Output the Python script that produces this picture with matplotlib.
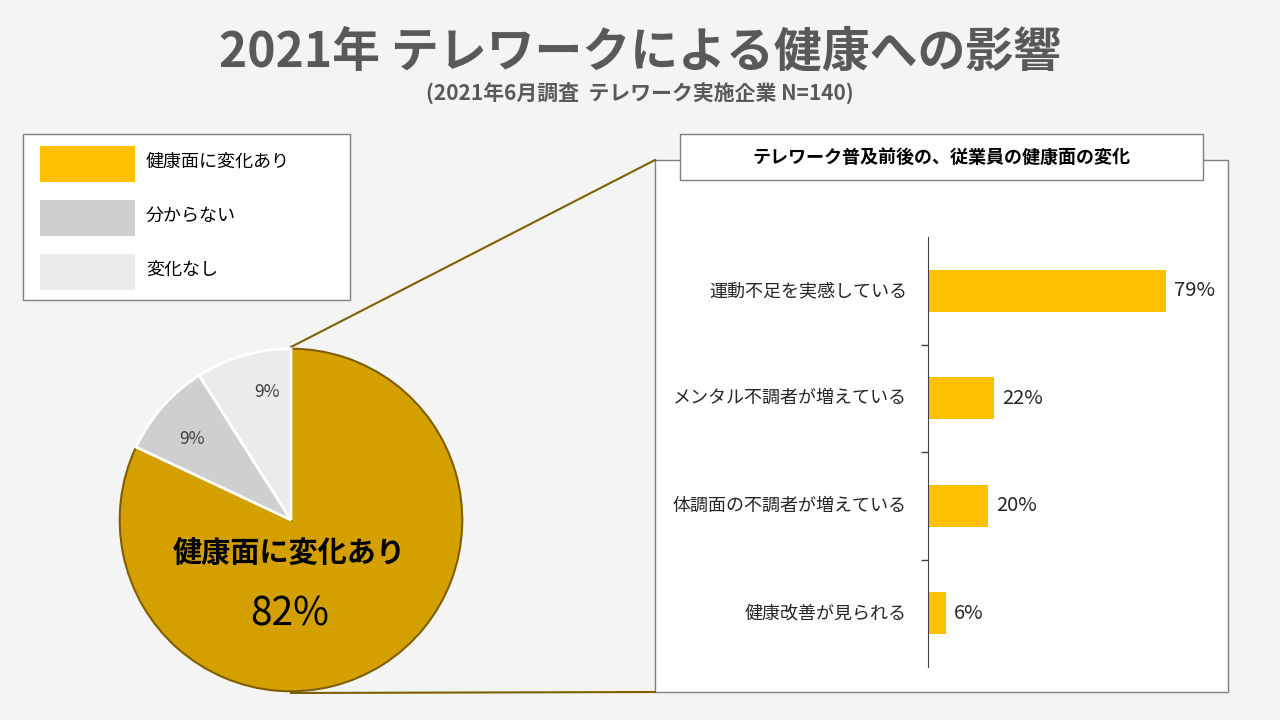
import matplotlib.pyplot as plt
from matplotlib.patches import Rectangle

plt.rcParams["font.family"] = "Noto Sans CJK JP"

pie_labels = ["健康面に変化あり", "分からない", "変化なし"]
pie_values = [82, 9, 9]
pie_colors = ["#D4A000", "#D0CFCF", "#EBEBEB"]

bar_labels = ["運動不足を実感している", "メンタル不調者が増えている",
              "体調面の不調者が増えている", "健康改善が見られる"]
bar_values = [79, 22, 20, 6]

W, H = 1280, 720
fig = plt.figure(figsize=(12.8, 7.2), dpi=100, facecolor="#F4F4F4")

# overlay in pixel coordinates for frames and text
bg = fig.add_axes([0, 0, 1, 1])
bg.set_xlim(0, W)
bg.set_ylim(H, 0)
bg.axis("off")
bg.patch.set_alpha(0)

bg.text(640, 52, "2021年 テレワークによる健康への影響", ha="center", va="center",
        fontsize=34.5, fontweight="bold", color="#595959")
bg.text(640, 93, "(2021年6月調査  テレワーク実施企業 N=140)", ha="center", va="center",
        fontsize=15, fontweight="bold", color="#595959")

# right panel
bg.add_patch(Rectangle((655, 160), 573, 532, fc="white", ec="#7F7F7F", lw=1))
bg.add_patch(Rectangle((680, 134), 523, 46, fc="white", ec="#7F7F7F", lw=1, zorder=3))
bg.text(941, 157, "テレワーク普及前後の、従業員の健康面の変化", ha="center", va="center",
        fontsize=13, fontweight="bold", color="black", zorder=4)

# connecting lines
bg.plot([291, 655], [347, 160], color="#7F6000", lw=1.5)
bg.plot([291, 655], [693, 692], color="#7F6000", lw=1.5)

# legend
bg.add_patch(Rectangle((23, 134), 327, 166, fc="white", ec="#7F7F7F", lw=1))
for i, (lab, c) in enumerate(zip(pie_labels, ["#FFC000", "#D0CFCF", "#EBEBEB"])):
    y = 164 + i * 54
    bg.add_patch(Rectangle((40, y - 18), 95, 36, fc=c, ec="none"))
    bg.text(146, y - 2, lab, va="center", fontsize=13, color="black")

# pie
pax = fig.add_axes([118 / W, 1 - 693 / H, 346 / W, 346 / H])
wedges, _ = pax.pie(pie_values, colors=pie_colors, startangle=90, counterclock=False,
                    radius=1, wedgeprops=dict(edgecolor="white", linewidth=2))
wedges[0].set_edgecolor("#7F6000")
wedges[0].set_linewidth(1.5)
pax.set_xlim(-1.01, 1.01)
pax.set_ylim(-1.01, 1.01)
pax.set_aspect("equal")
pax.text(-0.01, -0.19, pie_labels[0], ha="center", va="center", fontsize=21, fontweight="bold")
pax.text(-0.01, -0.55, f"{pie_values[0]}%", ha="center", va="center", fontsize=28)
pax.text(-0.58, 0.47, f"{pie_values[1]}%", ha="center", va="center", fontsize=12.5, color="#404040")
pax.text(-0.14, 0.75, f"{pie_values[2]}%", ha="center", va="center", fontsize=12.5, color="#404040")

# bars
bax = fig.add_axes([928 / W, 1 - 667 / H, 300 / W, 430 / H])
bax.patch.set_alpha(0)
ypos = list(range(len(bar_values)))
bax.barh(ypos, bar_values, height=0.39, color="#FFC000")
bax.set_ylim(3.5, -0.5)
bax.set_xlim(0, 79 * 300 / 238)
bax.set_yticks([y + 0.5 for y in ypos[:-1]])
bax.set_yticklabels([])
bax.tick_params(axis="y", length=5, width=1, color="#404040")
bax.set_xticks([])
for s in ["top", "right", "bottom"]:
    bax.spines[s].set_visible(False)
bax.spines["left"].set_color("#404040")
for y, lab, v in zip(ypos, bar_labels, bar_values):
    bax.text(-7, y, lab, ha="right", va="center", fontsize=13, color="#262626")
    bax.text(v + 2.5, y, f"{v}%", ha="left", va="center", fontsize=14.5, color="#262626")

fig.savefig("out.png", dpi=100, facecolor=fig.get_facecolor())
